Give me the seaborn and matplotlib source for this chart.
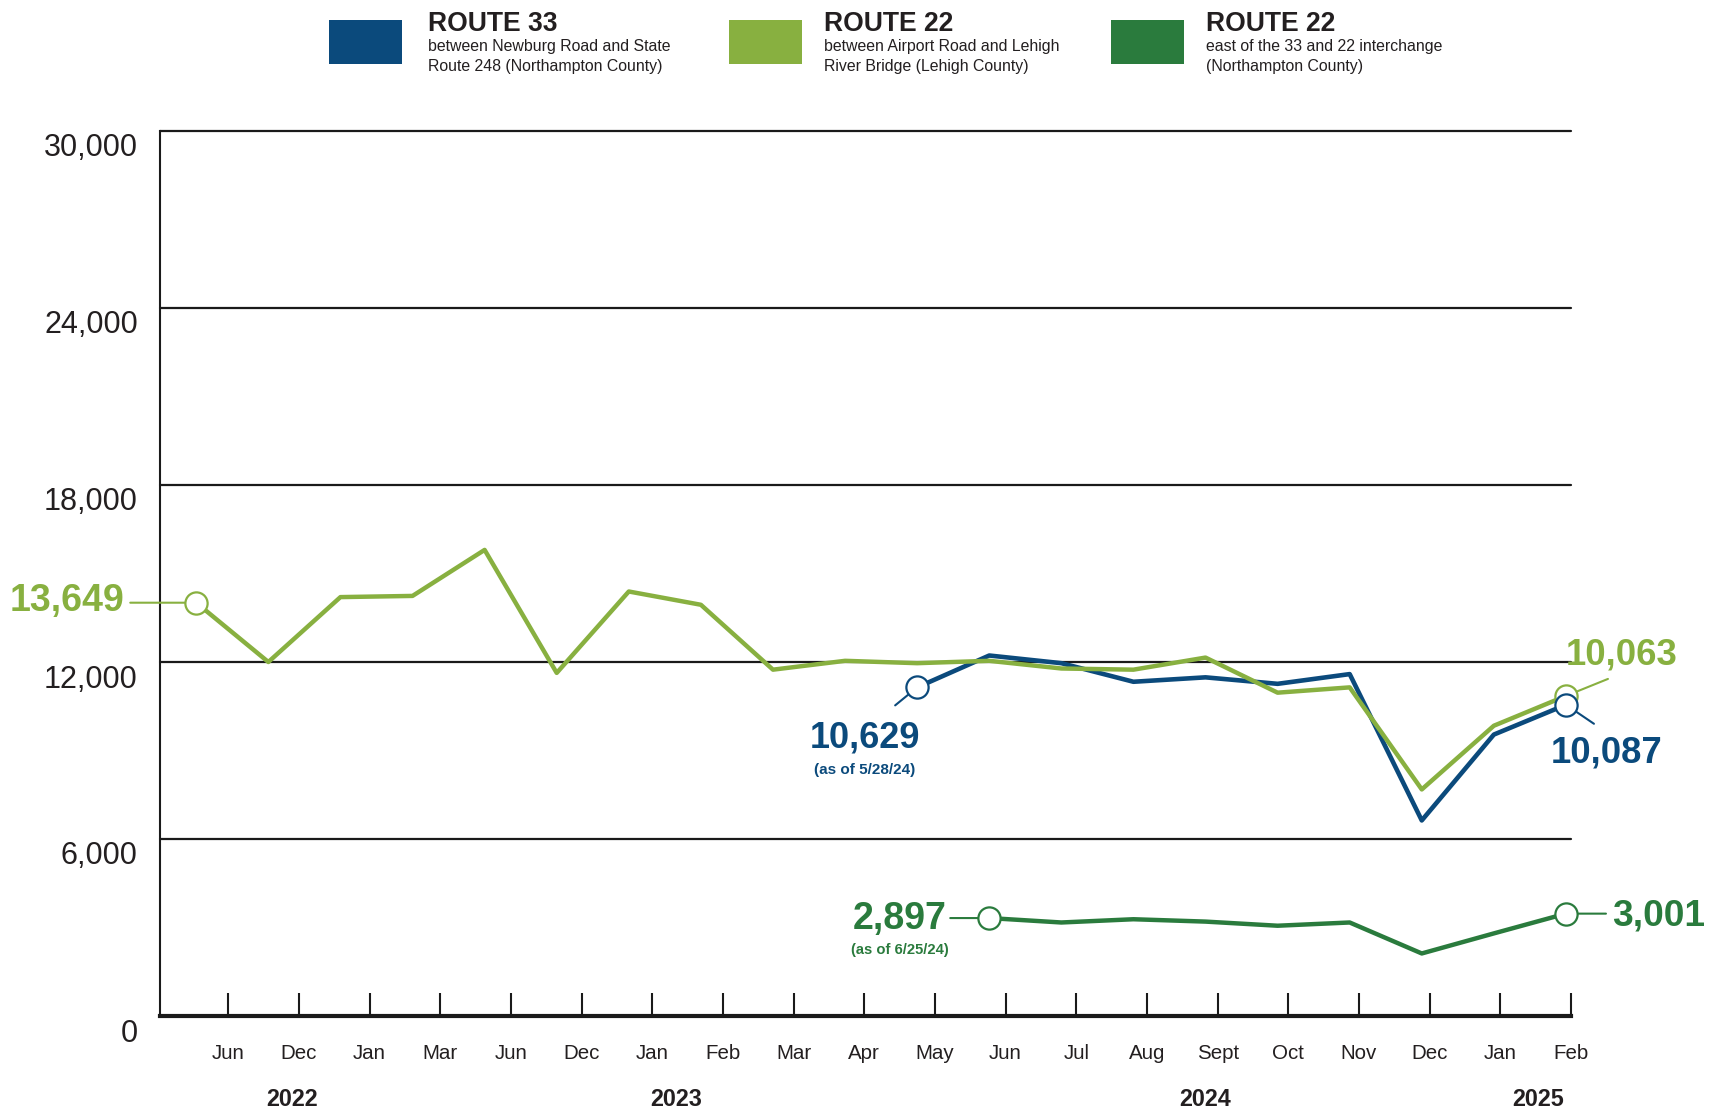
import numpy as np
import pandas as pd
import matplotlib
matplotlib.use('Agg')
import matplotlib.pyplot as plt
from matplotlib import font_manager
from matplotlib.patches import Rectangle
from matplotlib.transforms import ScaledTranslation
import seaborn as sns

# dados
months = ['Jun', 'Dec', 'Jan', 'Mar', 'Jun', 'Dec', 'Jan', 'Feb', 'Mar', 'Apr',
          'May', 'Jun', 'Jul', 'Aug', 'Sept', 'Oct', 'Nov', 'Dec', 'Jan', 'Feb']
years = ['2022', '2023', '2024', '2025']
route22_lehigh = [14010, 12000, 14200, 14240, 15800, 11630, 14390, 13940, 11740, 12040,
                  11960, 12040, 11780, 11740, 12150, 10960, 11140, 7680, 9840, 10850]
route33 = [11140, 12220, 11960, 11330, 11480, 11260, 11590, 6630, 9540, 10550]   # May 2024 ->
route22_east = [3320, 3170, 3280, 3200, 3060, 3170, 2120, 2800, 3470]              # Jun 2024 ->
route33_start = 10
route22_east_start = 11
y_ticks = [0, 6000, 12000, 18000, 24000, 30000]
value_labels = ['13,649', '10,629', '10,063', '10,087', '2,897', '3,001']
legend_titles = ['ROUTE 33', 'ROUTE 22', 'ROUTE 22']
legend_lines = [['between Newburg Road and State', 'Route 248 (Northampton County)'],
                ['between Airport Road and Lehigh', 'River Bridge (Lehigh County)'],
                ['east of the 33 and 22 interchange', '(Northampton County)']]

BLUE = '#0b4a7c'
LGREEN = '#88b040'
DGREEN = '#2a7b3d'
INK = '#231f20'

sns.set_style('white')
names = {f.name for f in font_manager.fontManager.ttflist}
narrow_ok = 'Liberation Sans Narrow' in names
NARROW = ['Liberation Sans Narrow', 'Liberation Sans', 'DejaVu Sans'] if narrow_ok else ['Liberation Sans', 'DejaVu Sans']
k = 1.0 if narrow_ok else 0.82
plt.rcParams['font.family'] = ['Liberation Sans', 'DejaVu Sans']

W, H = 1729, 1112
fig = plt.figure(figsize=(W / 100, H / 100), dpi=100)
ax = fig.add_axes([160 / W, (H - 1016) / H, (1571 - 160) / W, (1016 - 131) / H])

x_all = np.arange(len(months))
df_l = pd.DataFrame({'x': x_all, 'v': route22_lehigh})
df_b = pd.DataFrame({'x': x_all[route33_start:], 'v': route33})
df_d = pd.DataFrame({'x': x_all[route22_east_start:], 'v': route22_east})

sns.lineplot(data=df_b, x='x', y='v', color=BLUE, lw=3.3, ax=ax, zorder=3)
sns.lineplot(data=df_l, x='x', y='v', color=LGREEN, lw=3.2, ax=ax, zorder=4)
sns.lineplot(data=df_d, x='x', y='v', color=DGREEN, lw=3.2, ax=ax, zorder=3)

# marcadores abertos nas extremidades
mk = dict(marker='o', ms=16, mfc='white', mew=1.6, ls='none', clip_on=False)
ax.plot([df_l.x.iloc[0], df_l.x.iloc[-1]], [df_l.v.iloc[0], df_l.v.iloc[-1]], mec=LGREEN, zorder=6, **mk)
ax.plot([df_b.x.iloc[0], df_b.x.iloc[-1]], [df_b.v.iloc[0], df_b.v.iloc[-1]], mec=BLUE, zorder=7, **mk)
ax.plot([df_d.x.iloc[0], df_d.x.iloc[-1]], [df_d.v.iloc[0], df_d.v.iloc[-1]], mec=DGREEN, zorder=6, **mk)


def leader(x, y, dx, dy, color):
    ax.annotate('', (x, y), xytext=(dx, dy), textcoords='offset pixels',
                arrowprops=dict(arrowstyle='-', color=color, lw=1.5, shrinkA=0, shrinkB=8), zorder=5)


def label(x, y, text, dx, dy, color, size, ha='center', family=None, weight='bold'):
    ax.annotate(text, (x, y), xytext=(dx, dy), textcoords='offset pixels', ha=ha, va='center',
                color=color, fontsize=size, fontweight=weight, family=family or ['Liberation Sans'],
                annotation_clip=False)


# 13,649
x0, y0 = df_l.x.iloc[0], df_l.v.iloc[0]
leader(x0, y0, -66, 0, LGREEN)
label(x0, y0, value_labels[0], -72, 2, LGREEN, 33 * k, ha='right', family=NARROW)
# 10,629
x0, y0 = df_b.x.iloc[0], df_b.v.iloc[0]
leader(x0, y0, -22, -18, BLUE)
label(x0, y0, value_labels[1], -52, -51, BLUE, 26)
label(x0, y0, '(as of 5/28/24)', -53, -83, BLUE, 11)
# 10,063
x0, y0 = df_l.x.iloc[-1], df_l.v.iloc[-1]
leader(x0, y0, 42, 17, LGREEN)
label(x0, y0, value_labels[2], 56, 41, LGREEN, 26.3)
# 10,087
x0, y0 = df_b.x.iloc[-1], df_b.v.iloc[-1]
leader(x0, y0, 28, -19, BLUE)
label(x0, y0, value_labels[3], 41, -48, BLUE, 26.3)
# 2,897
x0, y0 = df_d.x.iloc[0], df_d.v.iloc[0]
leader(x0, y0, -39, 0, DGREEN)
label(x0, y0, value_labels[4], -43, -1, DGREEN, 33 * k, ha='right', family=NARROW)
label(x0, y0, '(as of 6/25/24)', -89, -32, DGREEN, 13 * k, family=NARROW)
# 3,001
x0, y0 = df_d.x.iloc[-1], df_d.v.iloc[-1]
leader(x0, y0, 40, 0, DGREEN)
label(x0, y0, value_labels[5], 46, -2, DGREEN, 32.5 * k, ha='left', family=NARROW)

# eixos
ax.set_xlim(-0.503, 19.07)
ax.set_ylim(0, 30000)
ax.set_yticks(y_ticks)
ax.set_yticklabels([f'{v:,}' for v in y_ticks], fontsize=22, color=INK)
ax.tick_params(axis='y', left=False, length=0, pad=16)
for t in ax.get_yticklabels():
    t.set_transform(t.get_transform() + ScaledTranslation(0, -14 / 100, fig.dpi_scale_trans))
ax.yaxis.grid(True, color='#1a1a1a', lw=1.6)
for gl in ax.get_ygridlines():
    gl.set_clip_on(False)

tick_pos = np.linspace(0.444, 19.07, len(months))
ax.set_xticks(tick_pos)
ax.set_xticklabels(months, fontsize=18 * k, color=INK, family=NARROW)
ax.tick_params(axis='x', bottom=True, direction='in', length=16.5, width=1.5,
               color='#1a1a1a', pad=20)
ax.set_xlabel('')
ax.set_ylabel('')

for s in ['top', 'right']:
    ax.spines[s].set_visible(False)
ax.spines['left'].set_linewidth(1.5)
ax.spines['left'].set_color('#1a1a1a')
ax.spines['bottom'].set_linewidth(3)
ax.spines['bottom'].set_color('#1a1a1a')

year_x = [0.0936, 0.366, 0.741, 0.977]
for yx, yr in zip(year_x, years):
    ax.text(yx, -0.094, yr, transform=ax.transAxes, ha='center', va='center',
            fontsize=20.5 * k, fontweight='bold', color=INK, family=NARROW)

# legenda no topo
swatch_x = [329, 729, 1111]
text_x = [428, 824, 1206]
colors = [BLUE, LGREEN, DGREEN]
for sx, tx, c, title, lines in zip(swatch_x, text_x, colors, legend_titles, legend_lines):
    fig.add_artist(Rectangle((sx / W, 1 - 64 / H), 73 / W, 44 / H, transform=fig.transFigure,
                             facecolor=c, edgecolor='none'))
    fig.text(tx / W, 1 - 24 / H, title, ha='left', va='center', fontsize=23.3 * k,
             fontweight='bold', color=INK, family=NARROW)
    fig.text(tx / W, 1 - 47 / H, lines[0], ha='left', va='center', fontsize=14 * k,
             color=INK, family=NARROW)
    fig.text(tx / W, 1 - 66 / H, lines[1], ha='left', va='center', fontsize=14 * k,
             color=INK, family=NARROW)

fig.savefig('out.png', dpi=100)
plt.close(fig)
